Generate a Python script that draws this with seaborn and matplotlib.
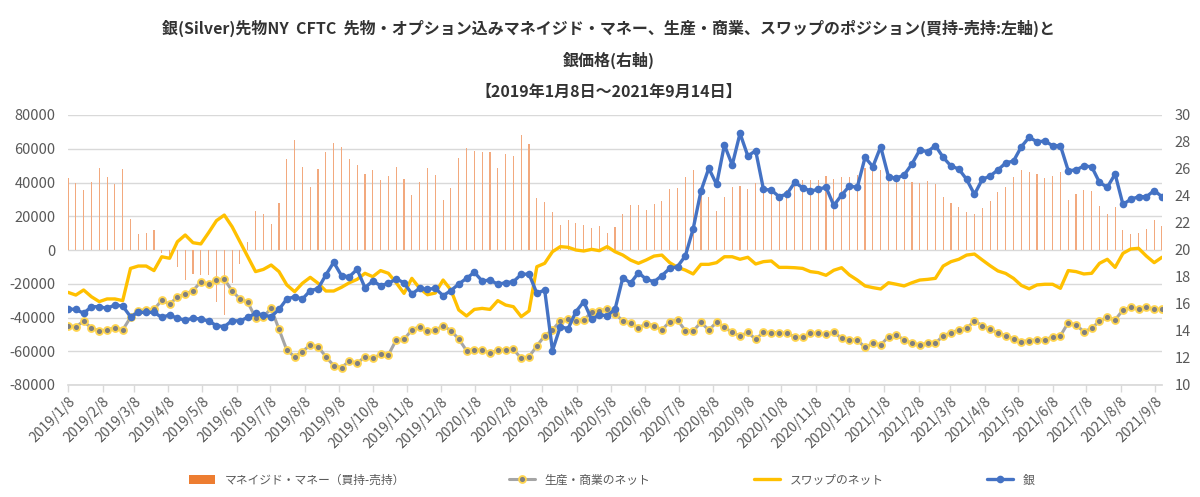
import pandas as pd
import numpy as np
import matplotlib
matplotlib.use("Agg")
import matplotlib.pyplot as plt
import matplotlib.dates as mdates
from matplotlib.ticker import FuncFormatter, MultipleLocator
from matplotlib.patches import Patch
from matplotlib.lines import Line2D
import seaborn as sns

# weekly CFTC report dates
dates = pd.date_range("2019-01-08", "2021-09-14", freq="7D")

# managed money net (long - short), left axis
managed_money = [
    42500, 39500, 35500, 40500, 48400, 43000, 39300, 48000, 18400, 9700,
    10100, 12000, -2000, -3000, -10300, -17800, -14200, -14800, -14800, -30600,
    -38800, -19400, -8300, 4500, 23100, 21300, 15400, 28000, 54100, 65200,
    49200, 37500, 47800, 57900, 63200, 61000, 54100, 50400, 45000, 47400,
    41700, 43800, 49200, 42100, 32600, 40500, 48600, 44600, 29800, 36500,
    54700, 60200, 58700, 58300, 57900, 48800, 56700, 55700, 68100, 62800,
    31000, 28400, 22700, 14800, 17800, 15800, 14600, 13200, 14000, 9900,
    13600, 21100, 26500, 26900, 23700, 27300, 29000, 35900, 36500, 43100,
    47400, 36000, 31600, 23100, 31600, 37500, 37900, 35900, 39500, 36000,
    36500, 33200, 35500, 41100, 41500, 41500, 41500, 43800, 41900, 43400,
    43000, 44200, 48400, 47400, 47400, 42500, 41900, 41500, 40500, 39900,
    40900, 39300, 31400, 27600, 25700, 22700, 21100, 24700, 29000, 34400,
    37100, 43400, 47400, 46400, 45000, 42700, 44000, 46400, 29600, 33000,
    35500, 35000, 26100, 21100, 25700, 11900, 9500, 9900, 12400, 17800,
    14200,
]

# producer / merchant net, left axis
producer_net = [
    -44800, -45400, -42300, -46200, -48000, -47400, -46000, -47400, -39900, -35900,
    -35500, -35200, -29800, -32200, -27700, -26100, -24100, -18800, -20300, -17800,
    -17200, -24200, -29000, -31000, -40100, -39500, -34600, -47000, -59300, -63200,
    -60200, -56300, -57300, -63200, -68500, -69700, -65800, -67200, -63200, -64200,
    -61800, -62200, -53300, -52900, -47400, -45400, -48000, -47700, -44800, -47800,
    -52700, -59600, -59300, -59300, -61200, -59300, -59300, -58900, -64200, -63200,
    -56900, -50800, -47400, -41900, -40900, -41900, -41500, -36900, -35900, -35200,
    -37900, -41900, -43500, -46000, -43800, -44800, -47400, -42500, -41500, -47800,
    -48000, -42900, -47400, -42900, -45800, -48800, -51000, -48800, -52900, -48800,
    -49000, -49000, -49400, -51400, -51700, -49400, -49400, -50000, -48800, -52300,
    -53300, -53300, -57700, -55300, -56300, -51400, -50400, -53300, -55300, -56300,
    -55300, -55300, -50800, -49000, -47400, -46400, -42100, -44800, -47000, -49000,
    -50800, -52700, -54300, -53700, -53300, -53300, -51400, -50800, -43100, -44400,
    -48400, -46400, -42100, -39900, -41500, -35500, -34000, -35000, -34000, -35200,
    -35000,
]

# swap dealer net, left axis
swap_net = [
    -25100, -26700, -23700, -27700, -30600, -29000, -29000, -30000, -10900, -9500,
    -9500, -12200, -4000, -4900, 4900, 8900, 4300, 3600, 10300, 17400,
    20700, 13800, 4900, -4000, -12800, -11500, -8900, -12800, -20700, -24700,
    -19700, -16200, -19700, -24300, -24300, -22100, -19400, -17400, -13800, -15800,
    -12200, -13800, -19400, -25700, -16800, -22700, -26500, -25500, -17800, -23700,
    -35500, -39100, -35200, -34600, -35200, -30000, -32600, -33600, -39500, -36100,
    -9900, -7900, -1000, 2000, 1600, 0, -600, 400, -400, 2000,
    -1000, -3000, -6000, -7900, -5900, -3600, -3000, -7500, -10300, -11900,
    -14200, -8500, -8500, -7500, -4000, -4000, -5500, -4300, -8300, -6900,
    -6500, -10300, -10300, -10500, -10900, -12800, -13400, -15000, -12000, -10500,
    -14800, -17800, -21300, -22300, -23100, -19400, -20300, -21300, -19400, -17800,
    -17400, -16800, -9500, -6900, -5500, -3000, -2400, -5900, -9300, -12400,
    -13900, -16800, -21000, -23000, -20700, -20300, -20300, -22700, -12200, -12800,
    -14200, -13800, -7900, -5500, -10300, -2000, 600, 1000, -3600, -7500,
    -4300,
]

# silver price, right axis
silver = [
    15.63, 15.60, 15.31, 15.80, 15.80, 15.68, 15.93, 15.85, 15.06, 15.38,
    15.38, 15.38, 15.01, 15.19, 14.94, 14.81, 14.94, 14.89, 14.74, 14.40,
    14.32, 14.77, 14.74, 15.01, 15.31, 15.19, 15.06, 15.60, 16.37, 16.54,
    16.37, 16.99, 17.14, 18.15, 19.09, 18.10, 18.02, 18.57, 17.21, 17.70,
    17.36, 17.53, 17.85, 17.58, 16.74, 17.16, 17.09, 17.16, 16.62, 16.99,
    17.48, 17.90, 18.35, 17.70, 17.78, 17.46, 17.58, 17.65, 18.20, 18.22,
    16.79, 17.04, 12.54, 14.32, 14.17, 15.43, 16.17, 14.86, 15.19, 15.14,
    15.60, 17.95, 17.55, 18.32, 17.83, 17.65, 18.10, 18.64, 18.77, 19.56,
    21.56, 24.37, 26.05, 24.86, 27.78, 26.30, 28.64, 26.96, 27.36, 24.49,
    24.44, 23.95, 24.15, 25.01, 24.62, 24.37, 24.49, 24.66, 23.30, 24.07,
    24.74, 24.64, 26.86, 26.17, 27.65, 25.43, 25.31, 25.56, 26.37, 27.41,
    27.28, 27.73, 26.86, 26.22, 26.00, 25.23, 24.12, 25.23, 25.48, 25.93,
    26.45, 26.59, 27.65, 28.35, 28.02, 28.07, 27.73, 27.73, 25.88, 25.93,
    26.22, 26.17, 25.01, 24.64, 25.63, 23.38, 23.75, 23.95, 23.95, 24.40,
    23.95,
]

labels = ["マネイジド・マネー（買持-売持）", "生産・商業のネット", "スワップのネット", "銀"]
title_lines = [
    "銀(Silver)先物NY  CFTC  先物・オプション込みマネイジド・マネー、生産・商業、スワップのポジション(買持-売持:左軸)と",
    "銀価格(右軸)",
    "【2019年1月8日～2021年9月14日】",
]

df = pd.DataFrame({
    "date": dates,
    "managed_money": managed_money,
    "producer": producer_net,
    "swap": swap_net,
    "silver": silver,
})

sns.set_theme(style="white")
plt.rcParams['font.family'] = ['Noto Sans CJK JP', 'DejaVu Sans']
plt.rcParams['axes.unicode_minus'] = False

ORANGE = "#ED7D31"
GRAY = "#A5A5A5"
YELLOW = "#FFC000"
BLUE = "#4472C4"
TXT = "#595959"

fig = plt.figure(figsize=(12, 4.97), dpi=100)
ax = fig.add_axes([68 / 1200, 1 - 385 / 497, (1162 - 68) / 1200, (385 - 115) / 497])
ax2 = ax.twinx()

# bars + left-axis lines
ax.bar(df["date"], df["managed_money"], width=1.0, color="#F2A97E", linewidth=0, zorder=2)
sns.lineplot(data=df, x="date", y="producer", ax=ax, color=GRAY, linewidth=2.2,
             marker="o", markersize=5, markerfacecolor="#7F7F7F",
             markeredgecolor="#FFD54F", markeredgewidth=1.3, zorder=3)
sns.lineplot(data=df, x="date", y="swap", ax=ax, color=YELLOW, linewidth=2.4, zorder=4)
# silver on right axis
sns.lineplot(data=df, x="date", y="silver", ax=ax2, color=BLUE, linewidth=2.4,
             marker="o", markersize=5.5, markeredgewidth=0, zorder=5)

ax.set_xlim(dates[0], dates[-1])
ax.set_ylim(-80000, 80000)
ax.yaxis.set_major_locator(MultipleLocator(20000))
ax2.set_ylim(10, 30)
ax2.yaxis.set_major_locator(MultipleLocator(2))

ax.xaxis.set_major_locator(mdates.MonthLocator(bymonthday=8))
ax.xaxis.set_major_formatter(FuncFormatter(
    lambda v, p: "{0}/{1}/{2}".format(mdates.num2date(v).year, mdates.num2date(v).month, mdates.num2date(v).day)))

ax.set_axisbelow(True)
ax.yaxis.grid(True, color="#D9D9D9", linewidth=1)
ax.xaxis.grid(False)
for s in ["top", "left", "right"]:
    ax.spines[s].set_visible(False)
for s in ax2.spines:
    ax2.spines[s].set_visible(False)
ax.spines["bottom"].set_color("#D9D9D9")

ax.set_xlabel("")
ax.set_ylabel("")
ax2.set_xlabel("")
ax2.set_ylabel("")

ax.tick_params(axis="y", length=0, pad=9, labelsize=10.5, labelcolor=TXT)
ax2.tick_params(axis="y", length=0, pad=9, labelsize=10.5, labelcolor=TXT)
ax.tick_params(axis="x", bottom=True, length=5, width=1, color="#D9D9D9",
               labelsize=10, labelcolor=TXT, pad=2)
plt.setp(ax.get_xticklabels(), rotation=45, ha="right", rotation_mode="anchor")

# titles
for txt, ypx in zip(title_lines, [28, 60, 92]):
    fig.text(0.507, 1 - ypx / 497, txt, ha="center", va="center",
             fontsize=11.5, fontweight="bold", color="#333333")

handles = [
    Patch(facecolor=ORANGE, edgecolor="none"),
    Line2D([], [], color=GRAY, linewidth=2.2, marker="o", markersize=5,
           markerfacecolor="#7F7F7F", markeredgecolor="#FFD54F", markeredgewidth=1.3),
    Line2D([], [], color=YELLOW, linewidth=2.4),
    Line2D([], [], color=BLUE, linewidth=2.4, marker="o", markersize=5.5, markeredgewidth=0),
]
leg = fig.legend(handles, labels, loc="center", bbox_to_anchor=(0.51, 0.034), ncol=4,
                 frameon=False, fontsize=8.5, columnspacing=8.8, handlelength=2.2)
for t in leg.get_texts():
    t.set_color(TXT)

fig.savefig("out.png", dpi=100)
